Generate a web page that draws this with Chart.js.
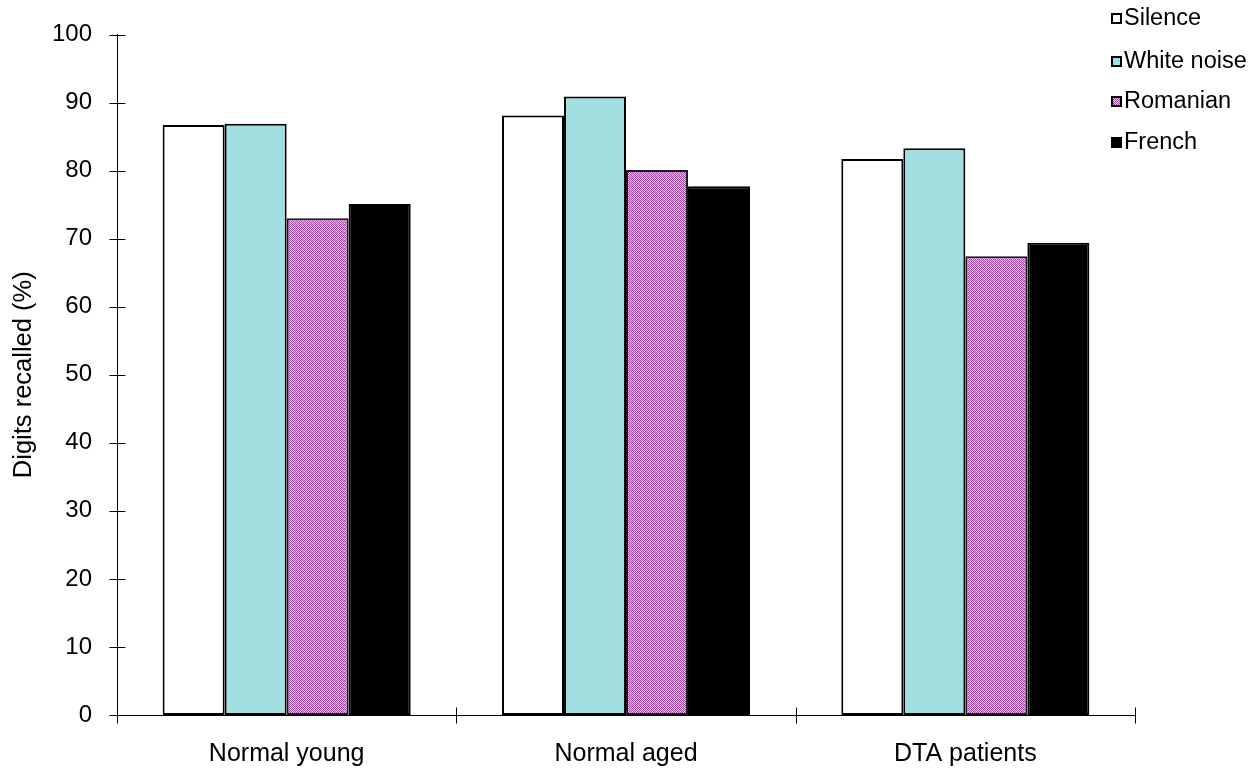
<!DOCTYPE html>
<html>
<head>
<meta charset="utf-8">
<script src="https://cdn.jsdelivr.net/npm/chart.js@4.4.1/dist/chart.umd.min.js"></script>
<style>
  html, body { margin: 0; padding: 0; background: #ffffff; }
  #wrap { width: 1259px; height: 775px; }
</style>
</head>
<body>
<div id="wrap"><canvas id="chart" width="1259" height="775"></canvas></div>
<script>
// Groups along the x axis
const categories = ['Normal young', 'Normal aged', 'DTA patients'];

// Percentage of digits recalled per condition
const seriesNames = ['Silence', 'White noise', 'Romanian', 'French'];
const silence    = [86.7, 88.1, 81.7];
const whiteNoise = [86.9, 90.9, 83.3];
const romanian   = [73.0, 80.1, 67.4];
const french     = [75.1, 77.7, 69.4];

// Value axis
const yTickValues = [0, 10, 20, 30, 40, 50, 60, 70, 80, 90, 100];
const yTitle = 'Digits recalled (%)';

const FONT = '"Liberation Sans", Arial, Helvetica, sans-serif';
Chart.defaults.font.family = FONT;
Chart.defaults.color = '#000000';

// Fine magenta/white checker used for the Romanian bars
function makeChecker() {
  const c = document.createElement('canvas');
  c.width = 4; c.height = 4;
  const g = c.getContext('2d');
  const D = '#a04da3', L = '#dcb4dc', W = '#f6eaf6';
  const map = [
    [D, L, D, L],
    [L, D, W, D],
    [D, L, D, L],
    [W, D, L, D]
  ];
  for (let y = 0; y < 4; y++) for (let x = 0; x < 4; x++) {
    g.fillStyle = map[y][x];
    g.fillRect(x, y, 1, 1);
  }
  return g.createPattern(c, 'repeat');
}
const checker = makeChecker();

// Tick marks that cross the axis lines, and the boundary ticks between groups
const crossTicks = {
  id: 'crossTicks',
  afterDraw(chart) {
    const ctx = chart.ctx;
    const { x, y } = chart.scales;
    const half = 8;
    ctx.save();
    ctx.strokeStyle = '#000000';
    ctx.lineWidth = 1;
    ctx.beginPath();
    const ax = Math.round(x.left) + 0.5;
    y.ticks.forEach(t => {
      const py = Math.round(y.getPixelForValue(t.value)) + 0.5;
      ctx.moveTo(ax - half, py);
      ctx.lineTo(ax + half, py);
    });
    const ay = Math.round(y.bottom) + 0.5;
    const n = categories.length;
    for (let i = 0; i <= n; i++) {
      const px = Math.round(x.left + i * (x.right - x.left) / n) + 0.5;
      ctx.moveTo(px, ay - half);
      ctx.lineTo(px, ay + half);
    }
    ctx.stroke();
    ctx.restore();
  }
};

// Stacked legend in the upper right corner
const cornerLegend = {
  id: 'cornerLegend',
  afterDraw(chart, args, opts) {
    const ctx = chart.ctx;
    ctx.save();
    ctx.font = opts.fontSize + 'px ' + FONT;
    ctx.textBaseline = 'middle';
    ctx.textAlign = 'left';
    chart.data.datasets.forEach((ds, i) => {
      const cy = opts.rows[i];
      const bx = opts.boxX, by = Math.round(cy - opts.box / 2);
      ctx.fillStyle = ds.backgroundColor;
      ctx.fillRect(bx, by, opts.box, opts.box);
      ctx.strokeStyle = '#000000';
      ctx.lineWidth = 2;
      ctx.strokeRect(bx + 1, by + 1, opts.box - 2, opts.box - 2);
      ctx.fillStyle = '#000000';
      ctx.fillText(ds.label, opts.textX, cy + 1);
    });
    ctx.restore();
  }
};

new Chart(document.getElementById('chart'), {
  type: 'bar',
  data: {
    labels: categories,
    datasets: [
      { label: seriesNames[0], data: silence,    backgroundColor: '#ffffff', borderColor: '#000000', borderWidth: 2, borderSkipped: false },
      { label: seriesNames[1], data: whiteNoise, backgroundColor: '#a3dfe0', borderColor: '#000000', borderWidth: 2, borderSkipped: false },
      { label: seriesNames[2], data: romanian,   backgroundColor: checker,   borderColor: '#1a1a1a', borderWidth: 2, borderSkipped: false },
      { label: seriesNames[3], data: french,     backgroundColor: '#000000', borderColor: '#000000', borderWidth: 2, borderSkipped: false }
    ]
  },
  options: {
    responsive: false,
    animation: false,
    devicePixelRatio: 1,
    layout: { autoPadding: false, padding: { top: 34.5, right: 124, bottom: 0, left: 0 } },
    datasets: { bar: { categoryPercentage: 0.731, barPercentage: 1.0 } },
    plugins: {
      legend: { display: false },
      tooltip: { enabled: false },
      cornerLegend: { rows: [18, 61, 101, 142], boxX: 1111, box: 11, textX: 1124, fontSize: 23.5 }
    },
    scales: {
      x: {
        offset: true,
        grid: { display: false, drawTicks: false },
        border: { display: true, color: '#000000', width: 1 },
        ticks: { padding: 24, font: { size: 25 }, color: '#000000', maxRotation: 0 },
        afterFit(scale) { scale.height = 60; scale.paddingLeft = 0; scale.paddingRight = 0; }
      },
      y: {
        min: 0,
        max: 100,
        afterBuildTicks(scale) { scale.ticks = yTickValues.map(v => ({ value: v })); },
        grid: { display: false, drawTicks: false },
        border: { display: true, color: '#000000', width: 1 },
        ticks: { padding: 25, font: { size: 24 }, color: '#000000' },
        title: { display: true, text: yTitle, font: { size: 25.5 }, color: '#000000', padding: { top: 9, bottom: 0 } },
        afterFit(scale) { scale.width = 117; scale.paddingTop = 0; scale.paddingBottom = 0; }
      }
    }
  },
  plugins: [crossTicks, cornerLegend]
});
</script>
</body>
</html>
